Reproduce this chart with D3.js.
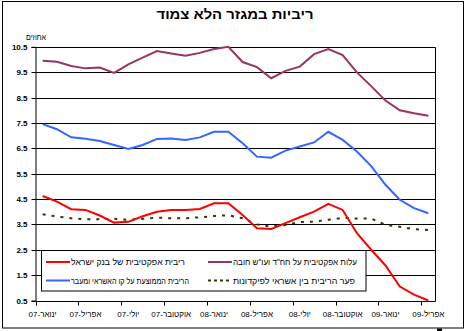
<!DOCTYPE html>
<html><head><meta charset="utf-8">
<script src="https://cdn.jsdelivr.net/npm/d3@7"></script>
<style>body{margin:0;background:#fff}svg{display:block}</style>
</head><body>
<svg id="c" width="466" height="331"></svg>
<script>
const months = ["2007-01","2007-02","2007-03","2007-04","2007-05","2007-06","2007-07","2007-08","2007-09","2007-10","2007-11","2007-12",
  "2008-01","2008-02","2008-03","2008-04","2008-05","2008-06","2008-07","2008-08","2008-09","2008-10","2008-11","2008-12",
  "2009-01","2009-02","2009-03","2009-04"];
const tickMonths = ["2007-01","2007-04","2007-07","2007-10","2008-01","2008-04","2008-07","2008-10","2009-01","2009-04"];
const tickLabels = ["ינואר-07","אפריל-07","יולי-07","אוקטובר-07","ינואר-08","אפריל-08","יולי-08","אוקטובר-08","ינואר-09","אפריל-09"];
const yTicks = [0.5,1.5,2.5,3.5,4.5,5.5,6.5,7.5,8.5,9.5,10.5];

const boiRate       = [4.62,4.40,4.10,4.07,3.85,3.57,3.60,3.82,4.00,4.07,4.07,4.11,4.33,4.33,3.87,3.35,3.32,3.55,3.78,4.00,4.31,4.07,3.15,2.50,1.88,1.05,0.73,0.50];
const overdraftCost = [9.95,9.91,9.74,9.65,9.68,9.47,9.81,10.07,10.33,10.24,10.15,10.26,10.41,10.50,9.90,9.70,9.26,9.55,9.72,10.21,10.41,10.17,9.49,8.95,8.38,8.00,7.88,7.78];
const creditLineRate= [7.45,7.25,6.93,6.88,6.79,6.63,6.47,6.63,6.87,6.89,6.83,6.93,7.15,7.15,6.70,6.17,6.13,6.41,6.57,6.73,7.15,6.83,6.37,5.80,5.06,4.47,4.14,3.94];
const spread        = [3.90,3.81,3.74,3.70,3.70,3.72,3.68,3.72,3.77,3.74,3.74,3.78,3.83,3.86,3.74,3.50,3.41,3.48,3.59,3.61,3.68,3.76,3.73,3.73,3.48,3.41,3.31,3.28];

const seriesNames = ["ריבית אפקטיבית של בנק ישראל","הריבית הממוצעת על קו האשראי ומעבר","עלות אפקטיבית על חח\"ד ועו\"ש חובה","פער הריבית בין אשראי לפיקדונות"];
const title = "ריביות במגזר הלא צמוד";
const yLabel = "אחוזים";

const svg = d3.select("#c");
const FONT = "'Liberation Sans', Arial, sans-serif";
const L = 35.5, R = 435.5, T = 46.8, B = 300.5;
const RLE = "\u202B", PDF = "\u202C", LRM = "\u200E";

const x = d3.scaleBand().domain(months).range([L, R]);
const y = d3.scaleLinear().domain([0.5, 10.5]).range([B, T]);

function centerOn(sel, cx) {
  const bb = sel.node().getBBox();
  sel.attr("x", +sel.attr("x") + (cx - (bb.x + bb.width/2)));
}
// visual order as in the reference: "07-" on the left, month name on the right
function tickText(s) {
  const [word, yr] = s.split("-");
  return yr + "-" + LRM + word;
}

// outer border
svg.append("rect").attr("x",2.5).attr("y",1.5).attr("width",461).attr("height",326.5)
  .attr("fill","#fff").attr("stroke","#000").attr("stroke-width",1);
svg.append("rect").attr("x",437).attr("y",328.5).attr("width",5).attr("height",2.5).attr("fill","#000");

// title
svg.append("text").attr("x",235).attr("y",19).attr("text-anchor","middle")
  .attr("font-family",FONT).attr("font-weight","bold").attr("font-size",13.5)
  .attr("textLength",157).attr("lengthAdjust","spacingAndGlyphs").text(RLE+title+PDF);

// y label
svg.append("text").attr("x",36).attr("y",39.5).attr("text-anchor","middle")
  .attr("font-family",FONT).attr("font-size",8).attr("textLength",20).attr("lengthAdjust","spacingAndGlyphs").text(RLE+yLabel+PDF);

// gridlines
svg.append("g").selectAll("line").data(yTicks).join("line")
  .attr("x1",L).attr("x2",R).attr("y1",d=>Math.round(y(d))+0.5).attr("y2",d=>Math.round(y(d))+0.5)
  .attr("stroke","#000").attr("stroke-width",1);
svg.append("line").attr("x1",R).attr("x2",R).attr("y1",Math.round(T)+0.5).attr("y2",Math.round(B)+0.5).attr("stroke","#000");

// y axis
const yAxis = svg.append("g").attr("transform",`translate(${L},0)`)
  .call(d3.axisLeft(y).tickValues(yTicks).tickSize(4).tickPadding(4).tickFormat(d3.format(".1f")));
yAxis.select(".domain").attr("stroke","#000");
yAxis.selectAll(".tick").attr("transform",d=>`translate(0,${Math.round(y(d))+0.5})`);
yAxis.selectAll("text").attr("font-family",FONT).attr("font-size",8).attr("font-weight","bold").attr("fill","#000");

// x axis
const xAxisY = Math.round(B)+0.5;
svg.append("line").attr("x1",L).attr("x2",R).attr("y1",xAxisY).attr("y2",xAxisY).attr("stroke","#000");
const xg = svg.append("g");
xg.selectAll("line").data(tickMonths).join("line")
  .attr("x1",d=>Math.round(x(d))+0.5).attr("x2",d=>Math.round(x(d))+0.5)
  .attr("y1",xAxisY).attr("y2",xAxisY+4).attr("stroke","#000");
xg.selectAll("text").data(tickMonths).join("text")
  .attr("x",d=>x(d)+x.bandwidth()/2).attr("y",317)
  .attr("text-anchor","middle")
  .attr("font-family",FONT).attr("font-size",8).attr("fill","#000")
  .text((d,i)=>tickText(tickLabels[i]))
  .each(function(d){ centerOn(d3.select(this), x(d)+x.bandwidth()/2); });

// lines
const line = d3.line().x((d,i)=>x(months[i])+x.bandwidth()/2).y(d=>y(d));
const series = [
  {data: spread, color:"#333300", dash:"3,6", w:2},
  {data: creditLineRate, color:"#3366FF", dash:null, w:2},
  {data: overdraftCost, color:"#993366", dash:null, w:2},
  {data: boiRate, color:"#FF0000", dash:null, w:2}
];
svg.append("g").selectAll("path").data(series).join("path")
  .attr("d",d=>line(d.data)).attr("fill","none").attr("stroke",d=>d.color)
  .attr("stroke-width",d=>d.w).attr("stroke-dasharray",d=>d.dash);

// legend
const lg = svg.append("g");
lg.append("rect").attr("x",41.5).attr("y",250.5).attr("width",324.5).attr("height",40.5)
  .attr("fill","#fff").attr("stroke","#000").attr("stroke-width",1);
const legendItems = [
  {name: seriesNames[0], color:"#FF0000", dash:null, x0:46, x1:70, ty:262, tx0:71, tw:114},
  {name: seriesNames[1], color:"#3366FF", dash:null, x0:46, x1:70, ty:280.5, tx0:71, tw:118},
  {name: seriesNames[2], color:"#993366", dash:null, x0:208, x1:232, ty:262, tx0:233, tw:124},
  {name: seriesNames[3], color:"#333300", dash:"3,3", x0:208, x1:232, ty:280.5, tx0:233, tw:122}
];
legendItems.forEach(it=>{
  lg.append("line").attr("x1",it.x0).attr("x2",it.x1).attr("y1",it.ty).attr("y2",it.ty)
    .attr("stroke",it.color).attr("stroke-width",2).attr("stroke-dasharray",it.dash);
  lg.append("text").attr("x",it.tx0+it.tw/2).attr("y",it.ty+3).attr("text-anchor","middle")
    .attr("font-family",FONT).attr("font-size",8.5).attr("fill","#000")
    .attr("textLength",it.tw).attr("lengthAdjust","spacingAndGlyphs").text(RLE+it.name+PDF);
});
</script>
</body></html>
